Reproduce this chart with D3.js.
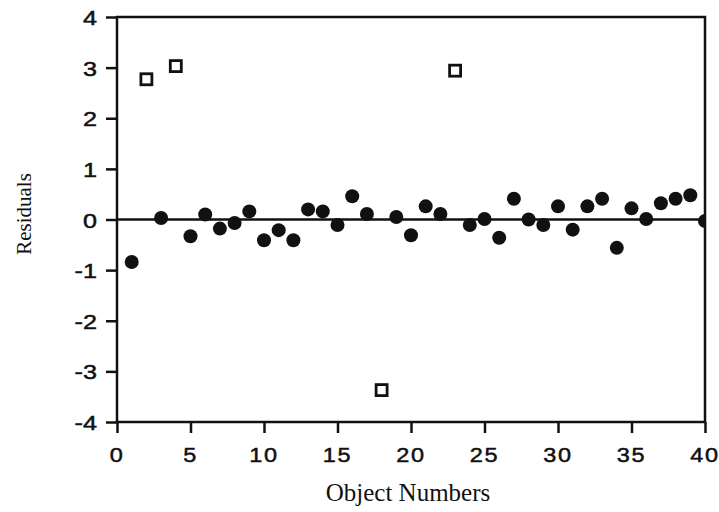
<html><head>
<meta charset="utf-8">
<script src="https://cdnjs.cloudflare.com/ajax/libs/d3/7.8.5/d3.min.js"></script>
<style>
  body { margin: 0; background: #fff; }
  .tick text { font-family: "Liberation Sans", Arial, sans-serif; font-size: 21px; fill: #111; stroke: #111; stroke-width: 0.5px; }
  .title { font-family: "Liberation Serif", "Times New Roman", serif; fill: #111; }
</style>
</head>
<body>
<svg id="chart" width="719" height="512"></svg>
<script>
// residuals of the regular objects
const objectIds = [1, 3, 5, 6, 7, 8, 9, 10, 11, 12, 13, 14, 15, 16, 17, 19, 20, 21, 22,
  24, 25, 26, 27, 28, 29, 30, 31, 32, 33, 34, 35, 36, 37, 38, 39, 40];
const residuals = [-0.84, 0.03, -0.33, 0.10, -0.18, -0.07, 0.16, -0.41, -0.21, -0.41, 0.20, 0.16, -0.11, 0.46, 0.11, 0.05, -0.31, 0.26, 0.11,
  -0.11, 0.01, -0.36, 0.41, 0.00, -0.11, 0.26, -0.20, 0.26, 0.41, -0.56, 0.22, 0.01, 0.32, 0.41, 0.48, -0.03];

// outliers, drawn as open squares
const outlierIds = [2, 4, 18, 23];
const outlierResiduals = [2.77, 3.03, -3.37, 2.94];

const xTicks = [0, 5, 10, 15, 20, 25, 30, 35, 40];
const yTicks = [-4, -3, -2, -1, 0, 1, 2, 3, 4];

const margin = {top: 17, right: 14, bottom: 90, left: 117};
const W = 719, H = 512;
const width = W - margin.left - margin.right;
const height = H - margin.top - margin.bottom;

const svg = d3.select("#chart");
const g = svg.append("g").attr("transform", `translate(${margin.left},${margin.top})`);

const x = d3.scaleLinear().domain([0, 40]).range([0, width]);
const y = d3.scaleLinear().domain([-4, 4]).range([height, 0]);

g.append("clipPath").attr("id", "plot")
  .append("rect").attr("width", width).attr("height", height);

// axes (plain hyphen for negatives, like the original)
const fmt = d => String(d);

const yAxis = g.append("g")
  .call(d3.axisLeft(y).tickValues(yTicks).tickSize(11).tickSizeOuter(0).tickFormat(fmt));
yAxis.selectAll(".tick text")
  .attr("x", null).attr("dy", "0.36em")
  .attr("transform", "translate(-20,0) scale(1.2,1)");

const xAxis = g.append("g").attr("transform", `translate(0,${height})`)
  .call(d3.axisBottom(x).tickValues(xTicks).tickSize(11).tickSizeOuter(0).tickFormat(fmt));
xAxis.selectAll(".tick text")
  .attr("y", null).attr("dy", null)
  .attr("letter-spacing", "1.5px")
  .attr("transform", "translate(-0.5,40) scale(1.12,1)");

g.selectAll(".domain").remove();
g.selectAll(".tick line").attr("stroke", "#111").attr("stroke-width", 2.5);

// frame
g.append("rect")
  .attr("width", width).attr("height", height)
  .attr("fill", "none").attr("stroke", "#111").attr("stroke-width", 2.5);

// zero line
g.append("line")
  .attr("x1", 0).attr("x2", width)
  .attr("y1", y(0)).attr("y2", y(0))
  .attr("stroke", "#111").attr("stroke-width", 2.5);

const pts = g.append("g").attr("clip-path", "url(#plot)");

pts.selectAll("circle")
  .data(objectIds)
  .enter().append("circle")
  .attr("cx", d => x(d))
  .attr("cy", (d, i) => y(residuals[i]))
  .attr("r", 7)
  .attr("fill", "#111");

pts.selectAll("rect.outlier")
  .data(outlierIds)
  .enter().append("rect")
  .attr("class", "outlier")
  .attr("x", d => x(d) - 5.5)
  .attr("y", (d, i) => y(outlierResiduals[i]) - 5.5)
  .attr("width", 11).attr("height", 11)
  .attr("fill", "#fff")
  .attr("stroke", "#111")
  .attr("stroke-width", 2.8);

// titles
svg.append("text").attr("class", "title")
  .attr("x", margin.left + x(20) - 3).attr("y", 501)
  .attr("text-anchor", "middle")
  .attr("font-size", 25)
  .text("Object Numbers");

svg.append("text").attr("class", "title")
  .attr("transform", `translate(31,${214}) rotate(-90)`)
  .attr("text-anchor", "middle")
  .attr("font-size", 21)
  .text("Residuals");
</script>
</body></html>
